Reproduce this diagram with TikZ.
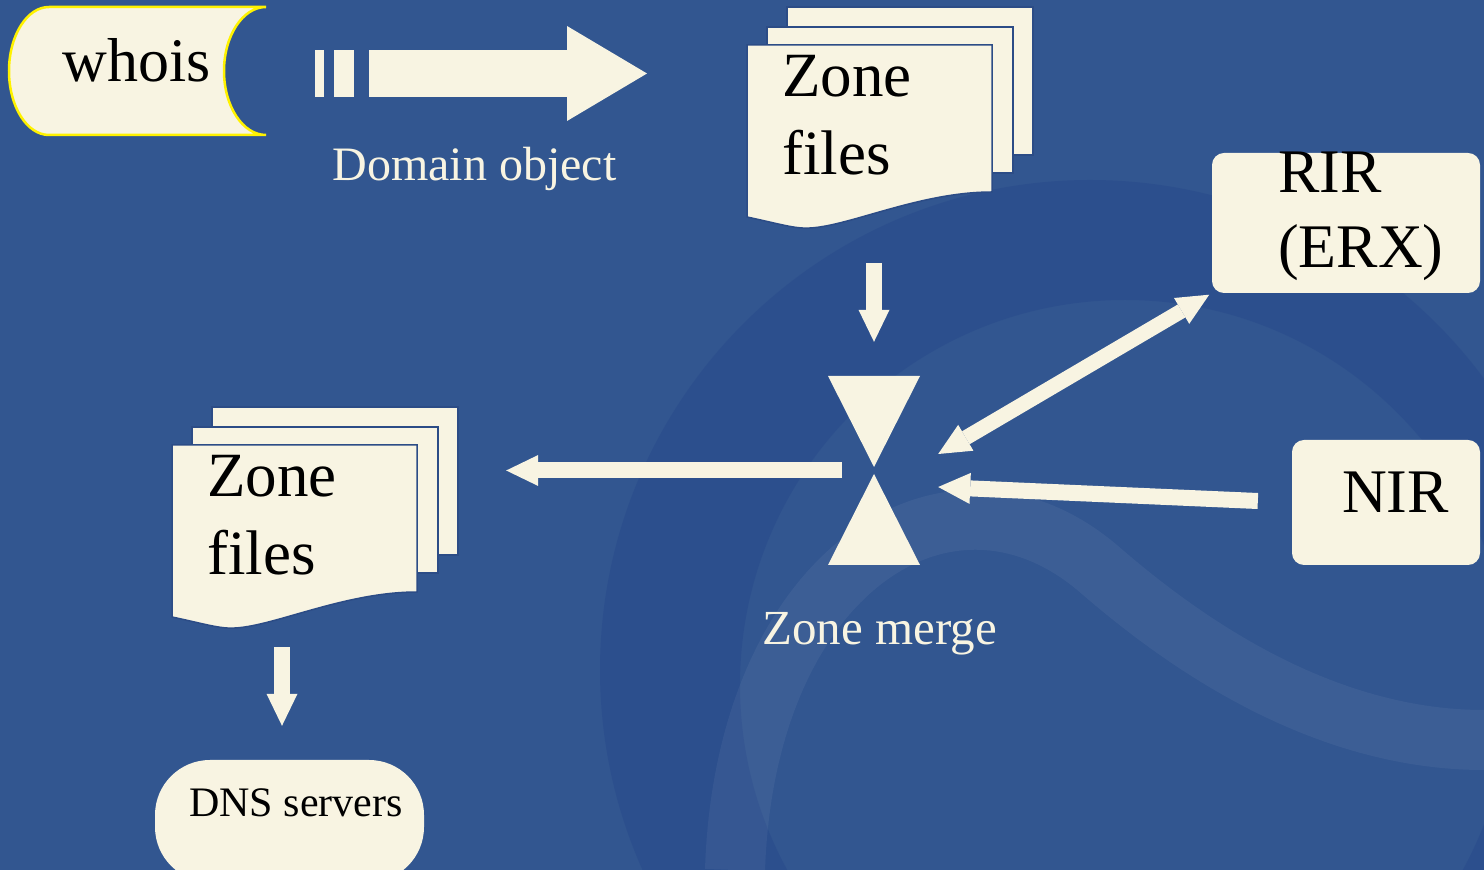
\documentclass[tikz,border=0pt]{standalone}
\usepackage{fontspec}
\setmainfont{Liberation Serif}
\usepackage{tikz}
\usetikzlibrary{arrows.meta,calc,positioning}
\definecolor{bgblue}{RGB}{50,86,144}
\definecolor{bgdark}{RGB}{38,72,138}
\definecolor{cream}{RGB}{248,244,226}
\definecolor{edgeblue}{RGB}{44,76,134}

\tikzset{
  page/.style={fill=cream,draw=edgeblue,line width=1.5pt},
  hole/.style={inner sep=0pt,minimum width=#1},
  bigtxt/.style={font=\fontsize{63}{76}\selectfont,anchor=base west,inner sep=0pt},
  boxtxt/.style={font=\fontsize{62}{74}\selectfont,anchor=base west,inner sep=0pt},
  captxt/.style={font=\fontsize{#1}{60}\selectfont,text=cream,anchor=base,inner sep=0pt},
  fatarrow/.style={draw=cream,line width=16pt,-{Triangle[length=32pt,width=31pt,line width=0pt]}},
  fatboth/.style={draw=cream,line width=15pt,{Triangle[length=32pt,width=30pt,line width=0pt]}-{Triangle[length=32pt,width=30pt,line width=0pt]}},
  bigarrow/.style={draw=cream,line width=47pt,-{Triangle[length=80pt,width=95pt,line width=0pt]}},
}

% stack of three pages, front one with a wavy foot
\newcommand\zonepages{%
  \draw[page] (787,863) rectangle (1033,715);
  \draw[page] (767,843) rectangle (1013,697);
  \draw[page] (747,825) -- (992,825) -- (992,678)
    .. controls (920,678) and (850,644) .. (810,642)
    .. controls (795,641) and (780,646) .. (747,653) -- cycle;
}

\begin{document}
\begin{tikzpicture}[x=1pt,y=1pt]
  \useasboundingbox (0,0) rectangle (1484,870);
  \fill[bgblue] (0,0) rectangle (1484,870);
  % swirl in the background
  \begin{scope}
    \clip (0,0) rectangle (1484,870);
    \fill[bgdark,opacity=0.45,even odd rule] (1090,200) circle (490) (1125,185) circle (385);
    \draw[white,opacity=0.05,line width=60pt] (735,0) .. controls (745,300) and (950,430) .. (1100,300)
      .. controls (1250,170) and (1380,130) .. (1484,130);
  \end{scope}

  % whois
  \fill[cream,draw=yellow,line width=2.5pt] (49,863) -- (266,863)
    arc[start angle=90,end angle=270,x radius=42,y radius=64] -- (49,735)
    arc[start angle=270,end angle=90,x radius=40,y radius=64] -- cycle;
  \node[hole=257pt,minimum height=128pt] (whois) at (137.5,799) {};
  \node[font=\fontsize{62}{74}\selectfont,anchor=base,inner sep=0pt] (whoistxt) at (137,788) {whois};

  % domain object arrow
  \fill[cream] (315,820) rectangle (324,773);
  \fill[cream] (334,820) rectangle (354,773);
  \coordinate (dtail) at (369,796.5);
  \coordinate (dtip) at (647,796.5);
  \draw[bigarrow] (dtail) -- (dtip);
  \node[captxt=48] (domtxt) at (474.5,689) {Domain object};

  % zone files, top
  \zonepages
  \node[hole=245pt,minimum height=183pt] (zf1) at (869.5,733.5) {};
  \node[bigtxt] (zf1a) at (782,773) {Zone};
  \node[bigtxt] (zf1b) at (782,695) {files};

  % zone files, bottom
  \begin{scope}[shift={(-575,-400)}]
    \zonepages
  \end{scope}
  \node[hole=245pt,minimum height=183pt] (zf2) at (294.5,333.5) {};
  \node[bigtxt] (zf2a) at (207,373) {Zone};
  \node[bigtxt] (zf2b) at (207,295) {files};

  % zone merge
  \fill[cream] (828,494) -- (920,494) -- (874,403) -- cycle;
  \fill[cream] (874,396) -- (920,305) -- (828,305) -- cycle;
  \node[hole=92pt,minimum height=189pt] (merge) at (874,399.5) {};
  \node[captxt=49] (mrgtxt) at (879.5,225) {Zone merge};
  \coordinate (mergeR1) at ([xshift=18pt,yshift=16.5pt]merge.east);
  \coordinate (mergeR2) at ([xshift=18pt,yshift=-16.5pt]merge.east);

  % RIR and NIR
  \fill[cream,rounded corners=12pt] (1212,577) rectangle (1480,717);
  \node[hole=268pt,minimum height=140pt] (rir) at (1346,647) {};
  \node[boxtxt] (rira) at (1278,677) {RIR};
  \node[boxtxt] (rirb) at (1278,602) {(ERX)};
  \fill[cream,rounded corners=12pt] (1292,305) rectangle (1480,430);
  \node[hole=188pt,minimum height=125pt] (nir) at (1386,367.5) {};
  \node[boxtxt] (nirtxt) at (1342,357) {NIR};

  % DNS servers
  \node[fill=cream,rounded corners=55pt,minimum width=269pt,minimum height=122pt,inner sep=0pt] (dns) at (289.5,49) {};
  \node[font=\fontsize{42}{50}\selectfont,anchor=base west,inner sep=0pt] (dnstxt) at (189,53) {DNS servers};

  % connectors
  \draw[fatarrow,shorten <=35pt,shorten >=34pt] (merge.north |- zf1.south) -- (merge.north);
  \draw[fatarrow,shorten <=32pt,shorten >=89pt] (merge.center) -- (zf2.east |- merge.center);
  \draw[fatboth,shorten >=3pt] (mergeR1) -- (rir.south west);
  \draw[fatarrow,shorten <=34pt] (nir.west) -- (mergeR2);
  \draw[fatarrow,shorten <=19pt,shorten >=34pt] ([xshift=-12.5pt]zf2.south) -- ([xshift=-12.5pt]zf2.south |- dns.north);
\end{tikzpicture}
\end{document}
